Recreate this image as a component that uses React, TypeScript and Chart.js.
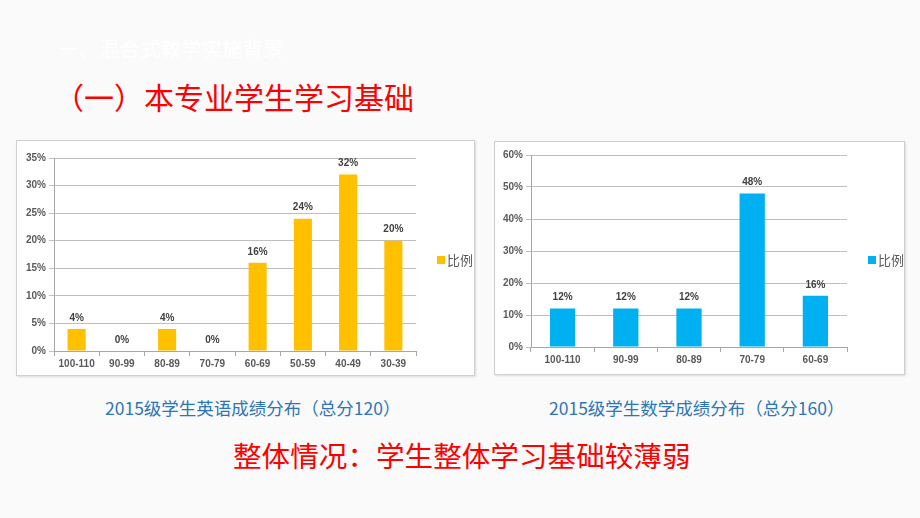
import React, { useEffect, useRef } from "react";
import { Chart, registerables } from "chart.js";

Chart.register(...registerables);

const englishCategories = ["100-110", "90-99", "80-89", "70-79", "60-69", "50-59", "40-49", "30-39"];
const englishValues = [4, 0, 4, 0, 16, 24, 32, 20];
const englishTicks = [0, 5, 10, 15, 20, 25, 30, 35];

const mathCategories = ["100-110", "90-99", "80-89", "70-79", "60-69"];
const mathValues = [12, 12, 12, 48, 16];
const mathTicks = [0, 10, 20, 30, 40, 50, 60];

const seriesName = "比例";
const headerText = "一、混合式教学实施背景";
const titleText = "（一）本专业学生学习基础";
const captionEnglish = "2015级学生英语成绩分布（总分120）";
const captionMath = "2015级学生数学成绩分布（总分160）";
const conclusionText = "整体情况：学生整体学习基础较薄弱";

const tickFont = { family: "'Liberation Sans', Arial, sans-serif", size: 10, weight: "bold" as const };

const valueLabelPlugin = {
  id: "valueLabels",
  afterDatasetsDraw(chart: any) {
    const ctx = chart.ctx;
    ctx.save();
    ctx.font = "bold 10px 'Liberation Sans', Arial, sans-serif";
    ctx.fillStyle = "#404040";
    ctx.textAlign = "center";
    ctx.textBaseline = "bottom";
    chart.data.datasets.forEach((ds: any, i: number) => {
      const meta = chart.getDatasetMeta(i);
      meta.data.forEach((bar: any, j: number) => {
        ctx.fillText(ds.data[j] + "%", bar.x, bar.y - 6);
      });
    });
    ctx.restore();
  },
};

// Legend drawn beside the plot area, from the dataset's own label and colour
const sideLegendPlugin = {
  id: "sideLegend",
  afterDraw(chart: any) {
    const ctx = chart.ctx;
    const area = chart.chartArea;
    const ds = chart.data.datasets[0];
    const x = area.right + 21;
    const y = (chart.height) / 2 + 2;
    ctx.save();
    ctx.fillStyle = ds.backgroundColor;
    ctx.fillRect(x, y - 4, 8, 8);
    ctx.font = "13px 'Noto Sans CJK SC', sans-serif";
    ctx.fillStyle = "#595959";
    ctx.textAlign = "left";
    ctx.textBaseline = "middle";
    ctx.fillText(ds.label, x + 10, y);
    ctx.restore();
  },
};

function BarChart(props: any) {
  const ref = useRef<HTMLCanvasElement>(null);
  useEffect(() => {
    const { categories, values, ticks, color, yWidth, xHeight, padTop, padRight } = props;
    const chart = new Chart(ref.current!, {
      type: "bar",
      data: {
        labels: categories,
        datasets: [
          {
            label: seriesName,
            data: values,
            backgroundColor: color,
            barPercentage: 0.4,
            categoryPercentage: 1,
          },
        ],
      },
      options: {
        animation: false,
        responsive: false,
        maintainAspectRatio: false,
        layout: { padding: { top: padTop, right: padRight, left: 0, bottom: 0 } },
        plugins: {
          legend: { display: false },
          tooltip: { enabled: false },
        },
        scales: {
          x: {
            grid: {
              display: true,
              drawOnChartArea: false,
              drawTicks: true,
              tickLength: 5,
              color: "#a6a6a6",
              offset: true,
            },
            border: { display: true, color: "#a6a6a6" },
            ticks: { color: "#595959", font: tickFont, padding: 2, maxRotation: 0 },
            afterFit: (s: any) => {
              s.height = xHeight;
            },
          },
          y: {
            min: ticks[0],
            max: ticks[ticks.length - 1],
            afterBuildTicks: (s: any) => {
              s.ticks = ticks.map((v: number) => ({ value: v }));
            },
            grid: {
              color: "#bfbfbf",
              drawTicks: true,
              tickLength: 5,
            },
            border: { display: true, color: "#a6a6a6" },
            ticks: {
              color: "#595959",
              font: tickFont,
              padding: 3,
              callback: (v: any) => v + "%",
            },
            afterFit: (s: any) => {
              s.width = yWidth;
            },
          },
        },
      },
      plugins: [valueLabelPlugin, sideLegendPlugin],
    });
    return () => chart.destroy();
  }, []);
  return <canvas ref={ref} width={props.width} height={props.height} style={{ display: "block" }} />;
}

export default function App() {
  const page: React.CSSProperties = {
    position: "fixed",
    left: 0,
    top: 0,
    width: 920,
    height: 518,
    background: "#fafafa",
    overflow: "hidden",
    fontFamily: "'Noto Sans CJK SC', sans-serif",
  };
  const box: React.CSSProperties = {
    position: "absolute",
    background: "#ffffff",
    border: "1px solid #cfcfcf",
    boxShadow: "1px 1px 2px rgba(0,0,0,0.12)",
  };
  return (
    <div style={page}>
      <div style={{ position: "absolute", left: 58, top: 34, fontSize: 20.5, color: "#ffffff", lineHeight: "28px", whiteSpace: "nowrap" }}>
        {headerText}
      </div>
      <div style={{ position: "absolute", left: 54, top: 76, fontSize: 30, color: "#ff0000", lineHeight: "40px", whiteSpace: "nowrap" }}>
        {titleText}
      </div>
      <div style={{ ...box, left: 16, top: 140, width: 457, height: 234 }}>
        <BarChart
          categories={englishCategories}
          values={englishValues}
          ticks={englishTicks}
          color="#ffc000"
          yWidth={37}
          xHeight={24}
          padTop={17}
          padRight={58}
          width={457}
          height={234}
        />
      </div>
      <div style={{ ...box, left: 494, top: 141, width: 409, height: 232 }}>
        <BarChart
          categories={mathCategories}
          values={mathValues}
          ticks={mathTicks}
          color="#00b0f0"
          yWidth={36}
          xHeight={27}
          padTop={13}
          padRight={57}
          width={409}
          height={232}
        />
      </div>
      <div style={{ position: "absolute", left: 105, top: 396, fontSize: 17.5, color: "#2e75b6", lineHeight: "24px", whiteSpace: "nowrap" }}>
        {captionEnglish}
      </div>
      <div style={{ position: "absolute", left: 549, top: 396, fontSize: 17.5, color: "#2e75b6", lineHeight: "24px", whiteSpace: "nowrap" }}>
        {captionMath}
      </div>
      <div style={{ position: "absolute", left: 233, top: 436, fontSize: 28.6, color: "#ff0000", lineHeight: "38px", whiteSpace: "nowrap" }}>
        {conclusionText}
      </div>
    </div>
  );
}
